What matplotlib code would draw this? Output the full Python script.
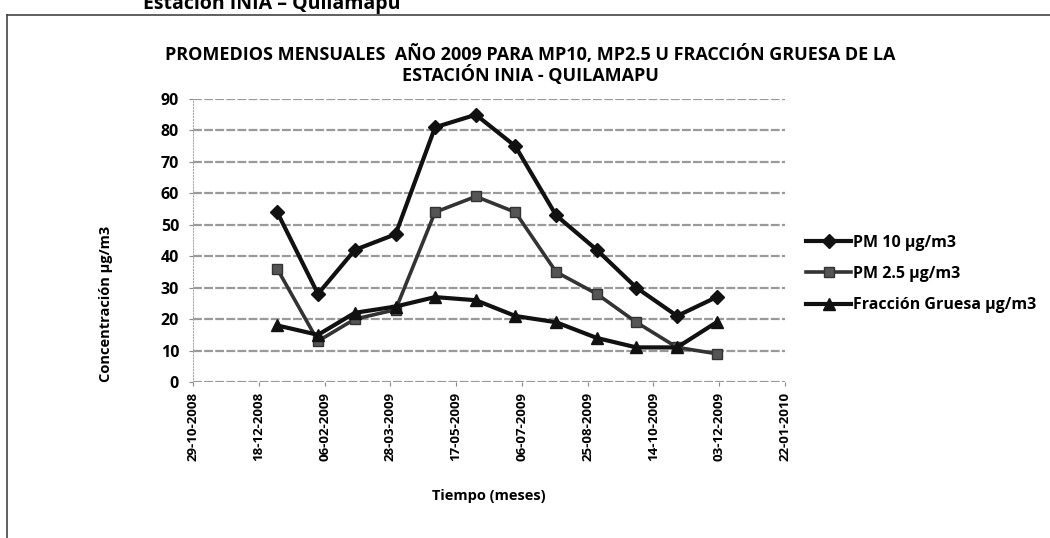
"""Promedios mensuales 2009 MP10 / MP2.5 / fracción gruesa - estación INIA Quilamapu."""

import datetime as dt

import matplotlib

matplotlib.use("Agg")
import matplotlib.dates as mdates
import matplotlib.pyplot as plt
from matplotlib.lines import Line2D

plt.rcParams["font.family"] = ["Open Sans", "DejaVu Sans"]

months = [dt.date(2009, m, 1) for m in range(1, 13)]
pm10 = [54, 28, 42, 47, 81, 85, 75, 53, 42, 30, 21, 27]
pm25 = [36, 13, 20, 23, 54, 59, 54, 35, 28, 19, 11, 9]
gruesa = [18, 15, 22, 24, 27, 26, 21, 19, 14, 11, 11, 19]

series_labels = ["PM 10 µg/m3", "PM 2.5 µg/m3", "Fracción Gruesa µg/m3"]
x_start = dt.date(2008, 10, 29)
x_end = dt.date(2010, 1, 22)
tick_dates = [x_start + dt.timedelta(days=50 * i) for i in range(10)]
y_ticks = list(range(0, 91, 10))

W, H = 1050, 538
fig = plt.figure(figsize=(W / 100, H / 100), dpi=100)
ax = fig.add_axes([193 / W, 1 - 382 / H, (785 - 193) / W, (382 - 99) / H])

ax.plot(months, pm10, color="#111111", lw=3, marker="D", ms=7, label=series_labels[0])
ax.plot(months, pm25, color="#333333", lw=2.6, marker="s", ms=7, mfc="#555555",
        label=series_labels[1])
ax.plot(months, gruesa, color="#111111", lw=3, marker="^", ms=8, label=series_labels[2])

ax.set_xlim(x_start, x_end)
ax.set_ylim(0, 90)
ax.set_xticks(tick_dates)
ax.xaxis.set_major_formatter(mdates.DateFormatter("%d-%m-%Y"))
ax.set_yticks(y_ticks)
ax.tick_params(axis="x", rotation=90, labelsize=9.5, length=3, color="#888888", pad=4)
ax.tick_params(axis="y", labelsize=11.5, length=3, color="#888888", pad=7)
for lab in ax.get_xticklabels() + ax.get_yticklabels():
    lab.set_fontweight("bold")

ax.grid(axis="y", color="#9a9a9a", lw=1.6, ls=(0, (4, 1)))
ax.set_axisbelow(True)
for side in ("top", "right", "bottom"):
    ax.spines[side].set_visible(False)
ax.spines["left"].set_color("#aaaaaa")
ax.spines["left"].set_linestyle(":")

ax.set_xlabel("Tiempo (meses)", fontsize=10.5, fontweight="bold", labelpad=20)
ax.set_ylabel("Concentración µg/m3", fontsize=10.5, fontweight="bold")
ax.yaxis.set_label_coords(-0.135, 0.276)

fig.text(530 / W, 1 - 55 / H,
         "PROMEDIOS MENSUALES  AÑO 2009 PARA MP10, MP2.5 U FRACCIÓN GRUESA DE LA",
         ha="center", va="center", fontsize=13, fontweight="bold")
fig.text(530 / W, 1 - 75 / H, "ESTACIÓN INIA - QUILAMAPU",
         ha="center", va="center", fontsize=13, fontweight="bold")

# recorte del encabezado del documento escaneado
fig.text(143 / W, 1 - 9 / H, "Estación INIA – Quilamapu", ha="left", va="baseline",
         fontsize=14, fontweight="bold")

# marco del gráfico
fig.add_artist(Line2D([7 / W, 1], [1 - 15 / H, 1 - 15 / H], color="#444444", lw=1.2))
fig.add_artist(Line2D([7 / W, 7 / W], [0, 1 - 15 / H], color="#444444", lw=1.2))

ax.legend(loc="center left", bbox_to_anchor=(792 / W, 1 - 274 / H),
          bbox_transform=fig.transFigure, frameon=False,
          handlelength=2.8, handletextpad=0.15, labelspacing=0.95,
          prop={"weight": "bold", "size": 11.5})

fig.savefig("out.png", dpi=100)
